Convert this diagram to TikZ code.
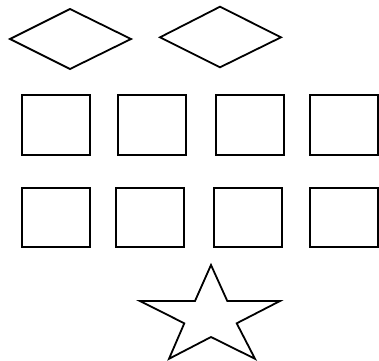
\documentclass[tikz,border=0pt]{standalone}
\begin{document}
\begin{tikzpicture}[x=1pt,y=-1pt,outline/.style={draw=black,line width=1.8pt,fill=white}]
\useasboundingbox (0,0) rectangle (379,360);
% diamonds
\draw[outline] (10,39) -- (70,9) -- (131,39) -- (70,69) -- cycle;
\draw[outline] (160,37.3) -- (220,6.7) -- (281,37.3) -- (220,67.3) -- cycle;
% row 1 squares
\draw[outline] (22,94.7) rectangle (90.3,155.3);
\draw[outline] (118,94.7) rectangle (186,155.3);
\draw[outline] (216,94.7) rectangle (284.3,155.3);
\draw[outline] (310,94.7) rectangle (378.2,155.3);
% row 2 squares
\draw[outline] (22,187.7) rectangle (90.3,246.7);
\draw[outline] (116,187.7) rectangle (184,246.7);
\draw[outline] (214,187.7) rectangle (282.3,246.7);
\draw[outline] (310,187.7) rectangle (378.2,246.7);
% star
\draw[outline] (211,265) -- (227.3,301) -- (280,301) -- (236.7,323.3) -- (255,358.8)
  -- (211,337) -- (169,358.8) -- (184.3,323.3) -- (140,301) -- (195,301) -- cycle;
\end{tikzpicture}
\end{document}
